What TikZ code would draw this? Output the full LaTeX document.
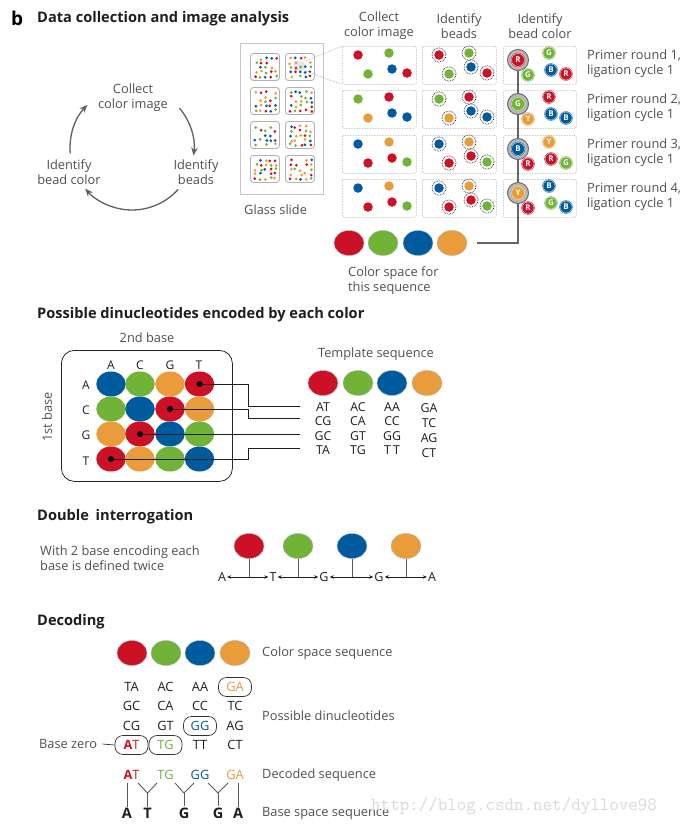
\documentclass[tikz,border=0pt]{standalone}
\usepackage{fontspec}
\setmainfont{Open Sans}
\usetikzlibrary{arrows.meta,shapes.geometric}
\definecolor{cR}{RGB}{204,16,38}
\definecolor{cG}{RGB}{112,179,55}
\definecolor{cB}{RGB}{0,90,158}
\definecolor{cY}{RGB}{234,155,58}
\colorlet{c0}{cR}\colorlet{c1}{cG}\colorlet{c2}{cB}\colorlet{c3}{cY}
\definecolor{txt}{RGB}{80,80,80}
\definecolor{ink}{RGB}{30,30,30}
\begin{document}
\begin{tikzpicture}[x=1pt,y=-1pt,
  lbl/.style={font=\fontsize{12.8}{15}\selectfont, text=txt, inner sep=0, align=center},
  lblw/.style={lbl, align=left, anchor=west},
  head/.style={font=\fontsize{14.6}{16}\selectfont\bfseries, anchor=west, inner sep=0, text=ink},
  panel/.style={draw=gray!75, densely dotted, line width=0.6pt, rounded corners=2pt},
  slidebox/.style={draw=gray!60, line width=0.9pt, rounded corners=3pt, fill=white},
  bead/.style={circle, fill=#1, minimum size=9.5pt, inner sep=0},
  ringd/.style={densely dotted, line width=0.7pt, draw=ink},
  lbead/.style={circle, fill=#1, draw=#1, double=white, double distance=0.3pt, line width=0.5pt, minimum size=12pt, inner sep=0, text=white, font=\fontsize{8}{8}\selectfont\bfseries},
  bigring/.style={circle, fill=gray!55, draw=gray!85!black, line width=1pt, minimum size=21pt, inner sep=0},
  blob/.style={ellipse, fill=#1, draw=gray!60, line width=0.4pt, minimum width=30pt, minimum height=25pt, inner sep=0},
  mcell/.style={ellipse, fill=#1, minimum width=29.5pt, minimum height=25pt, inner sep=0},
  dotn/.style={circle, fill=black, minimum size=6pt, inner sep=0},
  conn/.style={draw=ink, line width=0.8pt},
  letter/.style={font=\fontsize{12}{12}\selectfont, text=ink, inner sep=0},
  cyc/.style={draw=gray!75!black, line width=1.3pt, -{Stealth[length=8pt,width=6.5pt]}},
  dcell/.style={font=\fontsize{12.8}{12.8}\selectfont, text=ink, inner sep=0, minimum width=33pt, minimum height=19pt},
  dbox/.style={dcell, draw=gray!40!black, line width=0.7pt, rounded corners=8pt},
  stem/.style={draw=gray!70!black, line width=1pt},
  dbl/.style={draw=ink, line width=0.6pt, {Stealth[length=4pt,width=3.5pt]}-{Stealth[length=4pt,width=3.5pt]}},
  ylink/.style={draw=gray!70!black, line width=0.9pt},
  bsl/.style={font=\fontsize{14.5}{14.5}\selectfont\bfseries, text=ink, inner sep=0}
]
\useasboundingbox (0,0) rectangle (684,827);
\fill[white] (0,0) rectangle (684,827);

% ===== Section 1 =====
\node[font=\fontsize{19}{19}\selectfont\bfseries, anchor=west, inner sep=0] (b) at (11,18) {b};
\node[head] (h1) at (37,19) {Data collection and image analysis};

% cycle
\coordinate (cc) at (132,148);
\node[lbl] (tCollect) at (133,98) {Collect\\color image};
\node[lbl] (tBeads) at (196,172) {Identify\\beads};
\node[lbl] (tColor) at (69,172) {Identify\\bead color};
\draw[cyc] ([shift={(40:62pt)}]cc) arc[start angle=40, end angle=-7, radius=62pt];
\draw[cyc] ([shift={(-42:62pt)}]cc) arc[start angle=-42, end angle=-139, radius=62pt];
\draw[cyc] ([shift={(185:62pt)}]cc) arc[start angle=185, end angle=136, radius=62pt];

% glass slide
\node[draw=gray!45, line width=1pt, minimum width=83pt, minimum height=151pt, inner sep=0, anchor=north west] (slide) at (240,43) {};
\node[lbl, anchor=west] (tSlide) at (244,210) {Glass slide};
\pgfmathsetseed{4217}
\foreach \sx/\sy [count=\s] in {250/53, 285/53, 250/87, 285/87, 250/121, 285/121, 250/155, 285/155} {
  \node[slidebox, minimum width=29pt, minimum height=27pt, inner sep=0, anchor=north west] (sq\s) at (\sx,\sy) {};
  \foreach \i in {0,...,4} {
    \foreach \j in {0,...,4} {
      \pgfmathsetmacro\dx{\sx+4.5+\i*5+rnd*2.4}
      \pgfmathsetmacro\dy{\sy+4.5+\j*4.5+rnd*2.2}
      \pgfmathtruncatemacro\ci{min(4,int(rnd*4.6))}
      \ifnum\ci<4 \fill[c\ci] (\dx,\dy) circle (1.5pt);\fi
    }
  }
}
\node[fill=gray, fill opacity=0.2, rounded corners=2pt, minimum width=11pt, minimum height=9pt, inner sep=0] (zoomspot) at (299,66) {};

% column headers
\node[lbl] (hc1) at (379,26) {Collect\\color image};
\node[lbl] (hc2) at (459,26) {Identify\\beads};
\node[lbl] (hc3) at (540,26) {Identify\\bead color};

% panels
\foreach \y [count=\r] in {46,90,135,179} {
  \node[panel, minimum width=74pt, minimum height=38pt, inner sep=0, anchor=north west] (pA\r) at (342,\y) {};
  \node[panel, minimum width=74pt, minimum height=38pt, inner sep=0, anchor=north west] (pB\r) at (422,\y) {};
  \node[panel, minimum width=73pt, minimum height=38pt, inner sep=0, anchor=north west] (pC\r) at (503,\y) {};
}
\draw[gray!70, densely dotted, line width=0.6pt] (zoomspot.north east) -- (pA1.north west);
\draw[gray!70, densely dotted, line width=0.6pt] (zoomspot.south east) -- (pA1.south west);

% collect image beads and identified beads
\foreach \y/\ca/\cb/\cc/\cd/\ce [count=\r] in {46/cR/cG/cG/cB/cR, 90/cG/cR/cY/cB/cB, 135/cB/cY/cR/cR/cG, 179/cB/cY/cR/cR/cG} {
  \node[bead=\ca] (a\r1) at (342+16,\y+9) {};
  \node[bead=\cb] (a\r2) at (342+47,\y+7) {};
  \node[bead=\cc] (a\r3) at (342+26,\y+28) {};
  \node[bead=\cd] (a\r4) at (342+50,\y+23) {};
  \node[bead=\ce] (a\r5) at (342+65,\y+27) {};
  \node[bead=\ca] (b\r1) at (422+17,\y+9) {};
  \node[bead=\cb] (b\r2) at (422+47,\y+7) {};
  \node[bead=\cc] (b\r3) at (422+27,\y+28) {};
  \node[bead=\cd] (b\r4) at (422+49,\y+21) {};
  \node[bead=\ce] (b\r5) at (422+65,\y+27) {};
  \foreach \j in {1,...,5} { \draw[ringd] (b\r\j.center) circle (7pt); }
}

% identify bead colour
\coordinate (vtop) at (518,60);
\coordinate (vbot) at (518,243);
\coordinate (vend) at (477,243);
\draw[draw=gray!80!black, line width=1.5pt] (vtop) -- (vbot) -- (vend);
\foreach \y/\La/\Lb/\Lc/\Ld/\Le [count=\r] in {46/R/G/G/B/R, 90/G/R/Y/B/B, 135/B/Y/R/R/G, 179/Y/B/R/G/B} {
  \node[bigring] (ring\r) at (518,\y+14) {};
  \node[lbead=c\La, minimum size=13pt] (rc\r) at (ring\r) {\La};
  \node[lbead=c\Lb] (k\r2) at (503+46,\y+7) {\Lb};
  \node[lbead=c\Lc] (k\r3) at (503+25,\y+29) {\Lc};
  \node[lbead=c\Ld] (k\r4) at (503+48,\y+24) {\Ld};
  \node[lbead=c\Le] (k\r5) at (503+63,\y+28) {\Le};
  \node[lblw] (pr\r) at (587,\y+17.5) {Primer round \r,\\ligation cycle 1};
}

% colour space for this sequence
\node[blob=cR] (cs1) at (349,243) {};
\node[blob=cG] (cs2) at (383,243) {};
\node[blob=cB] (cs3) at (418,243) {};
\node[blob=cY] (cs4) at (452,243) {};
\node[lblw] (tcs) at (348,281) {Color space for\\this sequence};

% ===== Section 2 =====
\node[head] (h2) at (37,315) {Possible dinucleotides encoded by each color};
\node[lbl] (t2nd) at (147,338) {2nd base};
\node[draw=gray!30!black, line width=0.8pt, rounded corners=13pt, minimum width=171pt, minimum height=131pt, inner sep=0, anchor=north west] (mbox) at (61,350) {};
\node[lbl, rotate=90] (t1st) at (47,417) {1st base};
\foreach \L/\x in {A/111, C/140, G/170, T/199} { \node[letter] (col\L) at (\x,365) {\L}; }
\foreach \L/\y in {A/385, C/410, G/435, T/461} { \node[letter] (row\L) at (86,\y) {\L}; }
\foreach \y/\ca/\cb/\cc/\cd [count=\r] in {384/cB/cG/cY/cR, 409/cG/cB/cR/cY, 434/cY/cR/cB/cG, 459/cR/cY/cG/cB} {
  \node[mcell=\ca] (m\r1) at (111,\y) {};
  \node[mcell=\cb] (m\r2) at (140,\y) {};
  \node[mcell=\cc] (m\r3) at (170,\y) {};
  \node[mcell=\cd] (m\r4) at (199.5,\y) {};
}
\node[dotn] (dAT) at (m14) {};
\node[dotn] (dCG) at (m23) {};
\node[dotn] (dGC) at (m32) {};
\node[dotn] (dTA) at (m41) {};
\coordinate (eAT) at (300,406);
\coordinate (eCG) at (300,418);
\coordinate (eGC) at (300,434);
\coordinate (eTA) at (300,448);
\draw[conn] (dAT.center) -- ++(48.5,0) |- (eAT);
\draw[conn] (dCG.center) -- ++(78.5,0) |- (eCG);
\draw[conn] (dGC.center) -- (eGC);
\draw[conn] (dTA.center) -- ++(137.5,0) |- (eTA);

\node[lbl] (ttemp) at (376,354) {Template sequence};
\node[blob=cR] (ts1) at (323,383) {};
\node[blob=cG] (ts2) at (358,383) {};
\node[blob=cB] (ts3) at (392,383) {};
\node[blob=cY] (ts4) at (427,383) {};
\node[letter, align=center, font=\fontsize{12.3}{14.4}\selectfont] (tc1) at (323,428.5) {AT\\CG\\GC\\TA};
\node[letter, align=center, font=\fontsize{12.3}{14.4}\selectfont] (tc2) at (358,428.5) {AC\\CA\\GT\\TG};
\node[letter, align=center, font=\fontsize{12.3}{14.4}\selectfont] (tc3) at (392,428.5) {AA\\CC\\GG\\T\,T};
\node[letter, align=center, font=\fontsize{12.3}{15.2}\selectfont] (tc4) at (429,430.5) {GA\\TC\\AG\\CT};

% ===== Section 3 =====
\node[head] (h3) at (37,517) {Double\hspace{3pt} interrogation};
\node[lblw] (twith) at (40,558) {With 2 base encoding each\\base is defined twice};
\node[blob=cR] (di1) at (249,546) {};
\node[blob=cG] (di2) at (298,546) {};
\node[blob=cB] (di3) at (352,546) {};
\node[blob=cY] (di4) at (406,546) {};
\node[letter, font=\fontsize{12.5}{12.5}\selectfont] (bA1) at (222,577) {A};
\node[letter, font=\fontsize{12.5}{12.5}\selectfont] (bT1) at (273,577) {T};
\node[letter, font=\fontsize{12.5}{12.5}\selectfont] (bG1) at (324,577) {G};
\node[letter, font=\fontsize{12.5}{12.5}\selectfont] (bG2) at (379,577) {G};
\node[letter, font=\fontsize{12.5}{12.5}\selectfont] (bA2) at (432,577) {A};
\draw[dbl] ([xshift=1pt]bA1.east) -- ([xshift=-1pt]bT1.west);
\draw[dbl] ([xshift=1pt]bT1.east) -- ([xshift=-1pt]bG1.west);
\draw[dbl] ([xshift=1pt]bG1.east) -- ([xshift=-1pt]bG2.west);
\draw[dbl] ([xshift=1pt]bG2.east) -- ([xshift=-1pt]bA2.west);
\foreach \i in {1,...,4} { \draw[stem] (di\i.south) -- (di\i.south |- bA1.center); }

% ===== Section 4 =====
\node[head] (h4) at (37,622) {Decoding};
\node[blob=cR] (ds1) at (132,653) {};
\node[blob=cG] (ds2) at (166,653) {};
\node[blob=cB] (ds3) at (200,653) {};
\node[blob=cY] (ds4) at (235,653) {};
\node[lblw] (tcss) at (262,653) {Color space sequence};

\node[dcell] (g11) at (131.5,687) {TA};
\node[dcell] (g21) at (131.5,706) {GC};
\node[dcell] (g31) at (131.5,726) {CG};
\node[dbox, text=cR] (g41) at (131.5,745) {\textbf{A}T};
\node[dcell] (g12) at (165.5,687) {AC};
\node[dcell] (g22) at (165.5,706) {CA};
\node[dcell] (g32) at (165.5,726) {GT};
\node[dbox, text=cG] (g42) at (165.5,745) {TG};
\node[dcell] (g13) at (200,687) {AA};
\node[dcell] (g23) at (200,706) {CC};
\node[dbox, text=cB] (g33) at (200,726) {GG};
\node[dcell] (g43) at (200,745) {TT};
\node[dbox, text=cY] (g14) at (235,687) {GA};
\node[dcell] (g24) at (235,706) {TC};
\node[dcell] (g34) at (235,726) {AG};
\node[dcell] (g44) at (235,745) {CT};
\node[lblw] (tposs) at (262,716) {Possible dinucleotides};
\node[lblw] (tbz) at (39,744) {Base zero};
\draw[draw=gray!40!black, line width=0.7pt] ([xshift=5pt]tbz.east) -- (g41.west);

\node[dcell, text=cR] (dd1) at (131.5,775) {\textbf{A}T};
\node[dcell, text=cG] (dd2) at (165.5,775) {TG};
\node[dcell, text=cB] (dd3) at (200,775) {GG};
\node[dcell, text=cY] (dd4) at (235,775) {GA};
\node[lblw] (tdec) at (262,775) {Decoded sequence};

\node[bsl] (s1) at (127,813) {A};
\node[bsl] (s2) at (147.5,813) {T};
\node[bsl] (s3) at (184,813) {G};
\node[bsl] (s4) at (218,813) {G};
\node[bsl] (s5) at (238,813) {A};
\node[lblw] (tbss) at (262,813) {Base space sequence};

\coordinate (y1) at (147.5,793);
\coordinate (y2) at (184,793);
\coordinate (y3) at (218,793);
\draw[ylink] (127,783) -- ([yshift=1pt]s1.north);
\draw[ylink] (138,783) -- (y1) -- (157,783);
\draw[ylink] (y1) -- ([yshift=1pt]s2.north);
\draw[ylink] (175,783) -- (y2) -- (194,783);
\draw[ylink] (y2) -- ([yshift=1pt]s3.north);
\draw[ylink] (208,783) -- (y3) -- (228,783);
\draw[ylink] (y3) -- ([yshift=1pt]s4.north);
\draw[ylink] (238,783) -- ([yshift=1pt]s5.north);

% watermark
\node[anchor=west, inner sep=0, font=\ttfamily\fontsize{18.5}{18.5}\selectfont, text=gray!30] (wm) at (371,806) {http://blog.csdn.net/dyllove98};
\end{tikzpicture}
\end{document}
